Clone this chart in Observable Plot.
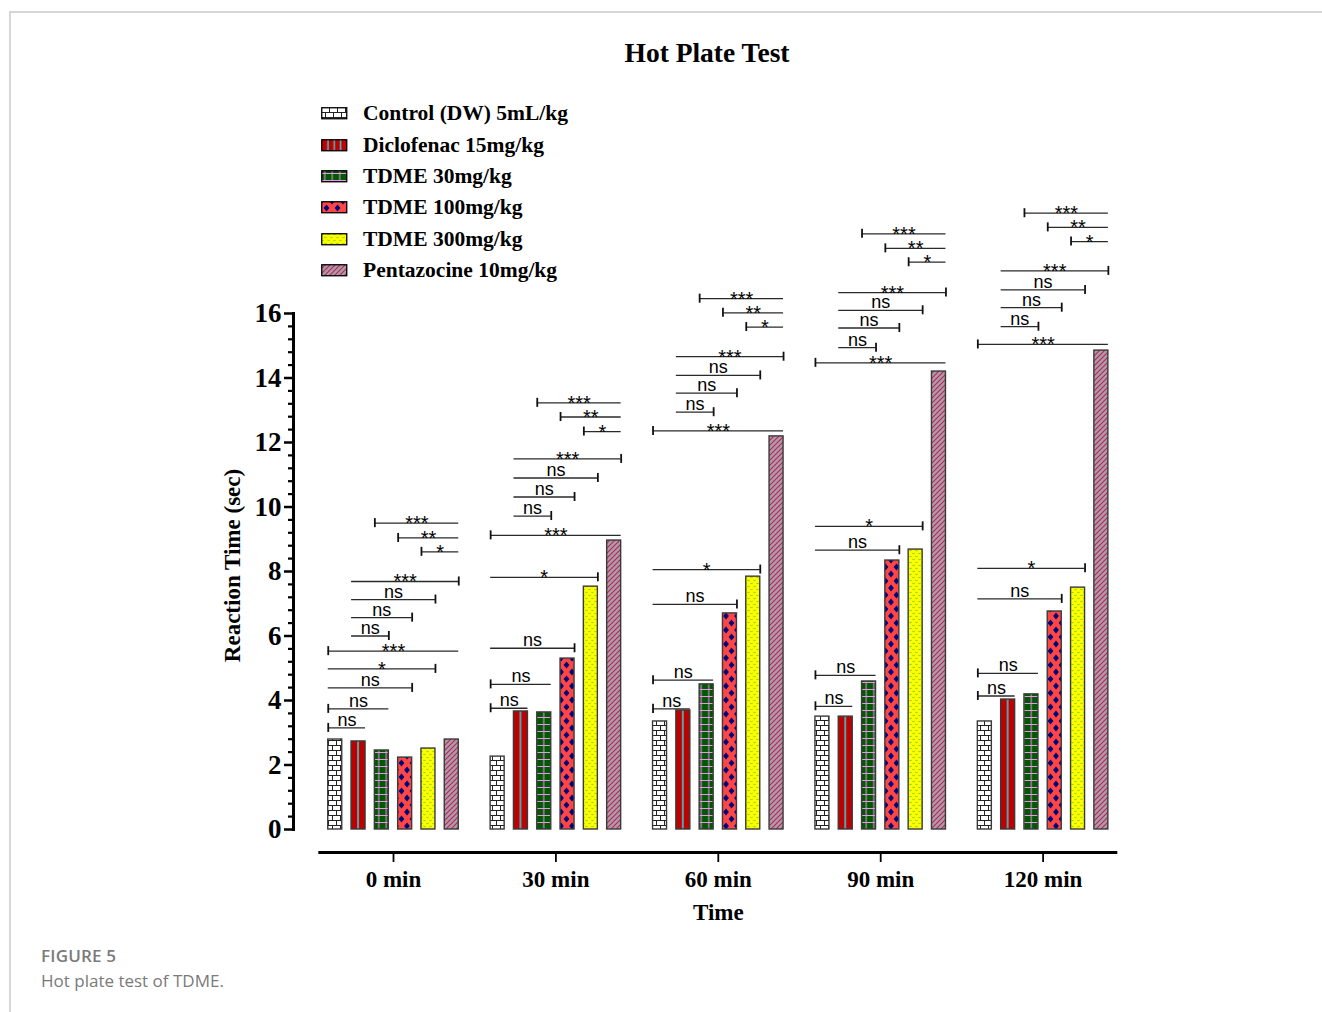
<!DOCTYPE html>
<html>
<head>
<meta charset="utf-8">
<script src="https://cdn.jsdelivr.net/npm/d3@7"></script>
<script src="https://cdn.jsdelivr.net/npm/@observablehq/plot@0.6"></script>
<style>
  html, body { margin: 0; padding: 0; background: #fff; }
  body { width: 1322px; height: 1012px; overflow: hidden; position: relative; font-family: "Liberation Serif", serif; }
  #chart { position: absolute; left: 0; top: 0; }
  #border { position: absolute; left: 9px; top: 11px; width: 1320px; height: 1010px; border-top: 2px solid #d6d6d6; border-left: 2px solid #d6d6d6; pointer-events: none; }
  #title { position: absolute; left: 0; width: 1414px; top: 38px; text-align: center; font: bold 27.5px "Liberation Serif", serif; line-height: 30px; color: #000; }
  #legend { position: absolute; left: 321px; top: 98px; }
  .row { height: 31.4px; display: flex; align-items: center; font: bold 21.5px "Liberation Serif", serif; color: #000; white-space: nowrap; }
  .row svg { margin-right: 15px; flex: none; }
  #cap1 { position: absolute; left: 41px; top: 944px; font: 600 17px "Open Sans", sans-serif; color: #7a7a7a; letter-spacing: 0.2px; }
  #cap2 { position: absolute; left: 41px; top: 969px; font: 400 17px "Open Sans", sans-serif; color: #7a7a7a; }
  #chart g[aria-label="stars"] text { letter-spacing: 2px; }
</style>
</head>
<body>
<svg width="0" height="0" style="position:absolute">
  <defs>
    <pattern id="pat0" patternUnits="userSpaceOnUse" width="8" height="10">
      <rect width="8" height="10" fill="#ffffff"/>
      <path d="M0,0.5H8M0,5.5H8M0.5,0V5.5M4.5,5.5V10" stroke="#222" stroke-width="1" fill="none"/>
    </pattern>
    <pattern id="pat1" patternUnits="objectBoundingBox" patternContentUnits="objectBoundingBox" width="1" height="1">
      <rect width="1" height="1" fill="#bd0000"/>
      <rect x="0.44" y="0" width="0.12" height="1" fill="#3cc4cc"/>
    </pattern>
    <pattern id="pat1L" patternUnits="objectBoundingBox" patternContentUnits="objectBoundingBox" width="1" height="1">
      <rect width="1" height="1" fill="#bd0000"/>
      <rect x="0.22" y="0" width="0.06" height="1" fill="#3cc4cc"/>
      <rect x="0.47" y="0" width="0.06" height="1" fill="#3cc4cc"/>
      <rect x="0.72" y="0" width="0.06" height="1" fill="#3cc4cc"/>
    </pattern>
    <pattern id="pat2" patternUnits="userSpaceOnUse" width="7.5" height="7">
      <rect width="7.5" height="7" fill="#005800"/>
      <path d="M3.75,0V7M0,3.5H7.5" stroke="#f092f0" stroke-width="1" fill="none"/>
    </pattern>
    <pattern id="pat3" patternUnits="userSpaceOnUse" width="11" height="14">
      <rect width="11" height="14" fill="#ff4646"/>
      <path d="M5.5,3.6L8.4,7L5.5,10.4L2.6,7Z M0,-3.4L2.9,0L0,3.4L-2.9,0Z M11,-3.4L13.9,0L11,3.4L8.1,0Z M0,10.6L2.9,14L0,17.4L-2.9,14Z M11,10.6L13.9,14L11,17.4L8.1,14Z" fill="#000078"/>
    </pattern>
    <pattern id="pat4" patternUnits="userSpaceOnUse" width="6" height="6">
      <rect width="6" height="6" fill="#ffff00"/>
      <path d="M0.4,0.8L1.5,2.1L2.6,0.8M3.4,3.8L4.5,5.1L5.6,3.8" stroke="#66c800" stroke-width="0.9" fill="none"/>
    </pattern>
    <pattern id="pat5" patternUnits="userSpaceOnUse" width="5" height="5">
      <rect width="5" height="5" fill="#a79ea7"/>
      <path d="M-1,1L1,-1M0,5L5,0M4,6L6,4" stroke="#c51d5c" stroke-width="1.1" fill="none"/>
    </pattern>
  </defs>
</svg>
<div id="chart"></div>
<div id="title">Hot Plate Test</div>
<div id="legend"></div>
<div id="cap1">FIGURE 5</div>
<div id="cap2">Hot plate test of TDME.</div>
<div id="border"></div>
<script>
// ---------------- data ----------------
const times = ["0 min", "30 min", "60 min", "90 min", "120 min"];
const treatments = ["Control (DW) 5mL/kg", "Diclofenac 15mg/kg", "TDME 30mg/kg", "TDME 100mg/kg", "TDME 300mg/kg", "Pentazocine 10mg/kg"];

const control     = [2.79, 2.26, 3.35, 3.50, 3.35];
const diclofenac  = [2.73, 3.66, 3.69, 3.50, 4.03];
const tdme30      = [2.45, 3.63, 4.50, 4.59, 4.19];
const tdme100     = [2.23, 5.30, 6.70, 8.34, 6.76];
const tdme300     = [2.51, 7.53, 7.84, 8.68, 7.50];
const pentazocine = [2.79, 8.96, 12.19, 14.20, 14.85];

const yTicks = [0, 2, 4, 6, 8, 10, 12, 14, 16];

// significance comparisons (treatment index pairs), same in every time group
const comparePairs = [[0,1],[0,2],[0,3],[0,4],[0,5],[1,2],[1,3],[1,4],[1,5],[4,5],[3,5],[2,5]];
const compareTickEnd = ["L","L","R","R","L","R","R","R","R","L","L","L"];
const sig0   = ["ns","ns","ns","*","***","ns","ns","ns","***","*","**","***"];
const sig30  = ["ns","ns","ns","*","***","ns","ns","ns","***","*","**","***"];
const sig60  = ["ns","ns","ns","*","***","ns","ns","ns","***","*","**","***"];
const sig90  = ["ns","ns","ns","*","***","ns","ns","ns","***","*","**","***"];
const sig120 = ["ns","ns","ns","*","***","ns","ns","ns","***","*","**","***"];
// bracket heights (reaction time units)
const lvl0   = [3.15, 3.74, 4.39, 4.98, 5.53, 6.00, 6.57, 7.13, 7.69, 8.61, 9.04, 9.50];
const lvl30  = [3.76, 4.50, 5.62, 7.82, 9.12, 9.72, 10.31, 10.90, 11.49, 12.34, 12.79, 13.23];
const lvl60  = [3.74, 4.63, 6.98, 8.06, 12.36, 12.94, 13.53, 14.08, 14.66, 15.58, 16.02, 16.46];
const lvl90  = [3.82, 4.78, 8.66, 9.40, 14.47, 14.94, 15.55, 16.10, 16.65, 17.59, 18.02, 18.47];
const lvl120 = [4.14, 4.84, 7.15, 8.10, 15.04, 15.59, 16.18, 16.73, 17.32, 18.23, 18.67, 19.11];

// ---------------- build tables ----------------
const series = [control, diclofenac, tdme30, tdme100, tdme300, pentazocine];
const sigs = [sig0, sig30, sig60, sig90, sig120];
const lvls = [lvl0, lvl30, lvl60, lvl90, lvl120];

const STEP = 0.1435, HALF = 0.0431;
const xc = (g, t) => g + (t - 2.5) * STEP;

const bars = series.flatMap((vals, t) => vals.map((v, g) => ({g, t, v})));
const brackets = [];
sigs.forEach((labs, g) => {
  comparePairs.forEach(([a, b], k) => {
    brackets.push({
      g, label: labs[k], y: lvls[g][k],
      x1: xc(g, a) - HALF, x2: xc(g, b) + HALF,
      end: compareTickEnd[k]
    });
  });
});

const minorTicks = d3.range(0, 16.001, 0.4).map(v => +v.toFixed(1)).filter(v => Math.abs(v / 2 - Math.round(v / 2)) > 1e-6);

const serif = "Liberation Serif";
const sans = "Liberation Sans";

const marks = [];
series.forEach((vals, t) => {
  marks.push(Plot.rect(bars.filter(d => d.t === t), {
    x1: d => xc(d.g, d.t) - HALF,
    x2: d => xc(d.g, d.t) + HALF,
    y1: 0, y2: "v",
    fill: `url(#pat${t})`,
    stroke: "#3a3a3a", strokeWidth: 1.4
  }));
});

marks.push(
  Plot.ruleY(brackets, {x1: "x1", x2: "x2", y: "y", stroke: "#2a2a2a", strokeWidth: 1.3}),
  Plot.ruleX(brackets, {x: d => d.end === "L" ? d.x1 : d.x2, y1: d => d.y - 0.14, y2: d => d.y + 0.14, stroke: "#111", strokeWidth: 1.8}),
  Plot.text(brackets.filter(d => d.label === "ns"), {
    x: d => (d.x1 + d.x2) / 2, y: "y", text: "label",
    lineAnchor: "bottom", dy: -2, fontSize: 18, fontFamily: sans, fill: "#000"
  }),
  Plot.text(brackets.filter(d => d.label !== "ns"), {
    x: d => (d.x1 + d.x2) / 2, y: "y", text: "label",
    lineAnchor: "bottom", dy: 7, fontSize: 20, fontFamily: sans, fill: "#000", ariaLabel: "stars"
  }),
  // y axis
  Plot.axisY({ticks: yTicks, tickSize: 9, tickPadding: 3, tickFormat: d => String(d), fontSize: 27, fontWeight: "bold", fontFamily: serif, strokeWidth: 2.5, label: null, fill: "#000"}),
  Plot.axisY({ticks: minorTicks, tickSize: 5, tickFormat: () => "", strokeWidth: 2.2, label: null}),
  Plot.frame({anchor: "left", strokeWidth: 3, stroke: "#000"}),
  Plot.text(["Reaction Time (sec)"], {frameAnchor: "left", textAnchor: "middle", lineAnchor: "middle", rotate: -90, dx: -61, dy: -6, fontSize: 23, fontWeight: "bold", fontFamily: serif, fill: "#000"}),
  // x axis (offset below the bars)
  Plot.ruleY([0], {x1: -0.46, x2: 4.46, dy: 23, stroke: "#000", strokeWidth: 3}),
  Plot.axisX({ticks: [0, 1, 2, 3, 4], tickFormat: i => times[i], tickSize: 10, tickPadding: 8, dy: 23, fontSize: 23, fontWeight: "bold", fontFamily: serif, strokeWidth: 1.8, label: null, fill: "#000"}),
  Plot.text(["Time"], {frameAnchor: "bottom", textAnchor: "middle", lineAnchor: "middle", dy: 83, fontSize: 23, fontWeight: "bold", fontFamily: serif, fill: "#000"})
);

const chart = Plot.plot({
  width: 1322,
  height: 940,
  marginLeft: 293,
  marginRight: 179.4,
  marginTop: 313,
  marginBottom: 111,
  x: {type: "linear", domain: [-0.6158, 4.6158], axis: null},
  y: {type: "linear", domain: [0, 16], axis: null},
  style: {background: "transparent", fontFamily: serif, color: "#000", overflow: "visible"},
  marks
});
document.getElementById("chart").appendChild(chart);

// legend
const legendPats = ["pat0", "pat1L", "pat2", "pat3", "pat4", "pat5"];
const legend = d3.select("#legend");
treatments.forEach((name, t) => {
  const row = legend.append("div").attr("class", "row");
  const sw = row.append("svg").attr("width", 27).attr("height", 13);
  sw.append("rect").attr("x", 0.75).attr("y", 0.75).attr("width", 25).attr("height", 11)
    .attr("fill", `url(#${legendPats[t]})`).attr("stroke", "#000").attr("stroke-width", 1.3);
  row.append("span").text(name);
});
</script>
</body>
</html>
